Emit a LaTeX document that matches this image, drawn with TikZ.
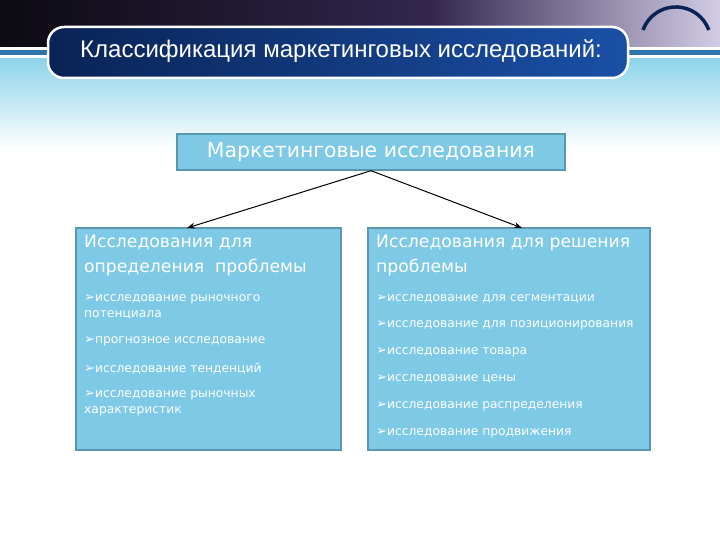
\documentclass[tikz,border=0pt]{standalone}
\usepackage{fontspec}
\setmainfont{DejaVu Sans}
\newfontfamily\titlefont{Liberation Sans}
\usetikzlibrary{arrows.meta}
\definecolor{boxfill}{HTML}{7DC9E6}
\definecolor{boxline}{HTML}{5A97AC}
\definecolor{cyanbg}{HTML}{8CD3EA}
\definecolor{navyL}{HTML}{0A2356}
\definecolor{navyR}{HTML}{1A50A6}
\definecolor{stripe}{HTML}{2E74AA}
\definecolor{bandL}{HTML}{0C0A12}
\definecolor{bandM}{HTML}{32264E}
\definecolor{bandR}{HTML}{D2CCE6}
\newcommand{\bul}{{\fontsize{13}{13}\selectfont ➢}}
\tikzset{
  box/.style={draw=boxline, line width=1.4pt, fill=boxfill, inner sep=0pt},
  head/.style={text=white, font=\fontsize{17.2}{25}\selectfont, anchor=north west, align=left, inner sep=0pt},
  item/.style={text=white, font=\fontsize{12.3}{16}\selectfont, anchor=north west, align=left, inner sep=0pt},
  conn/.style={-{Stealth[length=8pt,width=6pt]}, line width=1pt, black}
}
\begin{document}
\begin{tikzpicture}[x=1pt,y=-1pt]
\useasboundingbox (0,0) rectangle (720,540);
\fill[white] (0,0) rectangle (720,540);
% header band
\shade[top color=cyanbg, bottom color=white] (0,57) rectangle (720,150);
\shade[left color=bandL, right color=bandM] (0,0) rectangle (430,48);
\shade[left color=bandM, right color=bandR] (430,0) rectangle (720,48);
\fill[white] (0,47) rectangle (720,50);
\fill[stripe] (0,50) rectangle (720,55);
\fill[white] (0,55) rectangle (720,58);
\draw[navyL, line width=3.5pt] (643,30) arc[start angle=200, end angle=340, radius=35];
% title
\shade[left color=navyL, right color=navyR, rounded corners=16pt, draw=white, line width=2.5pt] (48,27) rectangle (628,78);
\node[text=white, font=\titlefont\fontsize{24}{26}\selectfont, inner sep=0pt] (title) at (341,51) {Классификация маркетинговых исследований:};
% boxes
\node[box, minimum width=388pt, minimum height=36pt, text=white, font=\fontsize{20.4}{22}\selectfont] (top) at (371,152) {Маркетинговые исследования};
\node[box, minimum width=265pt, minimum height=222pt] (left) at (208.5,339) {};
\node[box, minimum width=282pt, minimum height=222pt] (right) at (509,339) {};
\coordinate (lt) at (187,228);
\coordinate (rt) at (522,228);
\draw[conn] (top.south) -- (lt);
\draw[conn] (top.south) -- (rt);
% left text
\node[head] (lh) at (84,235) {Исследования для\\определения\ \ проблемы};
\node[item] (l1) at (84,294) {\bul исследование рыночного\\потенциала};
\node[item] (l2) at (84,336) {\bul прогнозное исследование};
\node[item] (l3) at (84,363) {\bul исследование тенденций};
\node[item] (l4) at (84,390) {\bul исследование рыночных\\характеристик};
% right text
\node[head] (rh) at (376,235) {Исследования для решения\\проблемы};
\node[item] (r1) at (376,294) {\bul исследование для сегментации};
\node[item] (r2) at (376,320) {\bul исследование для позиционирования};
\node[item] (r3) at (376,347) {\bul исследование товара};
\node[item] (r4) at (376,374) {\bul исследование цены};
\node[item] (r5) at (376,401) {\bul исследование распределения};
\node[item] (r6) at (376,428) {\bul исследование продвижения};
\end{tikzpicture}
\end{document}
